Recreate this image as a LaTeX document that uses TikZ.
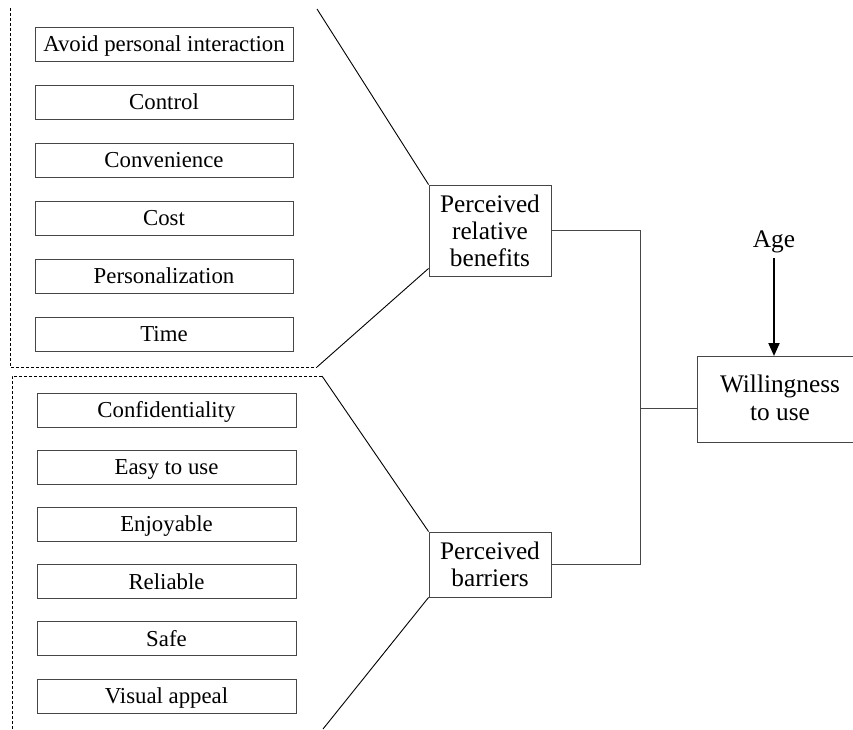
\documentclass[tikz,border=0pt]{standalone}
\usepackage{fontspec}
\setmainfont{Liberation Serif}
\usetikzlibrary{arrows.meta}
\definecolor{boxgray}{RGB}{70,70,70}
\begin{document}
\begin{tikzpicture}[x=1pt,y=-1pt,
  itembox/.style={draw=boxgray,line width=0.9pt,minimum height=34pt,inner sep=0pt,text height=15pt,text depth=0pt,font=\fontsize{22.8}{26}\selectfont},
  bigbox/.style={draw=boxgray,line width=0.9pt,inner sep=0pt,align=center,font=\fontsize{25.3}{27}\selectfont},
  frame/.style={line width=0.9pt,dash pattern=on 3pt off 2pt},
  diag/.style={line width=0.9pt},
  conn/.style={draw=boxgray,line width=0.9pt}]
\useasboundingbox (0,0) rectangle (853,729);
% top group
\foreach \t [count=\i from 0] in {Avoid personal interaction,Control,Convenience,Cost,Personalization,Time}{
  \node[itembox,minimum width=258pt] (t\i) at (164,44+58*\i) {\t};
}
% bottom group
\foreach \t [count=\i from 0] in {Confidentiality,Easy to use,Enjoyable,Reliable,Safe,Visual appeal}{
  \node[itembox,minimum width=259pt] (b\i) at (166.5,410+57.2*\i) {\t};
}
\node[bigbox,minimum width=122pt,minimum height=91pt] (prb) at (490,230.5) {Perceived\\relative\\benefits};
\node[bigbox,minimum width=122pt,minimum height=65pt] (pb) at (490,564.5) {Perceived\\barriers};
\node[bigbox,minimum width=166pt,minimum height=86pt,anchor=north west] (will) at (697,356) {};
\node[font=\fontsize{25.3}{28}\selectfont,align=center] (willt) at (780,398) {Willingness\\to use};
\node[font=\fontsize{25.3}{28}\selectfont] (age) at (774,242) {Age};
% frames
\coordinate (f1a) at (10,8);
\coordinate (f1b) at (10,367);
\coordinate (f1c) at (317,367);
\coordinate (f2a) at (322,376);
\coordinate (f2b) at (12,376);
\coordinate (f2c) at (12,735);
\draw[frame] (f1a) -- (f1b) -- (f1c);
\draw[frame] (f2a) -- (f2b) -- (f2c);
\coordinate (d1) at (317,9);
\coordinate (d2) at (323,729);
\draw[diag] (d1) -- (prb.north west);
\draw[diag] (f1c) -- ([yshift=8pt]prb.south west);
\draw[diag] (f2a) -- (pb.north west);
\draw[diag] (d2) -- (pb.south west);
% connectors
\coordinate (j) at (640,408);
\draw[conn] (prb.east) -| (j) |- (pb.east);
\draw[conn] (j) -- (j -| will.west);
\coordinate (agebot) at (774,258);
\draw[line width=2pt,-{Triangle[width=11pt,length=13pt]}] (agebot) -- (agebot |- will.north);
\end{tikzpicture}
\end{document}
